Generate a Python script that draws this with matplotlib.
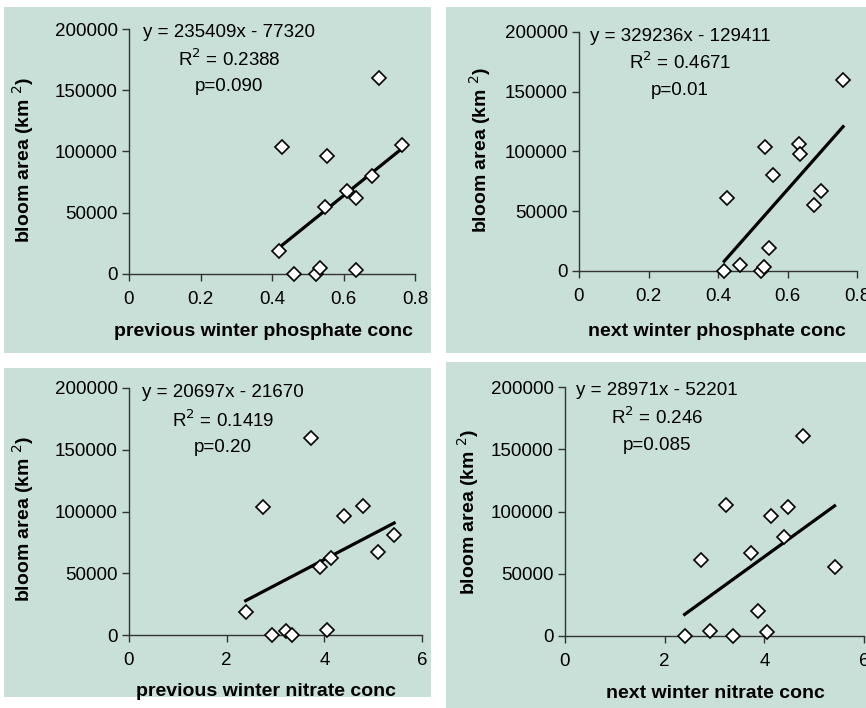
import matplotlib
matplotlib.use("Agg")
import matplotlib.pyplot as plt
from matplotlib.patches import Rectangle
import numpy as np

plt.rcParams['font.family'] = ['Liberation Sans', 'DejaVu Sans']

# ---- data ----
prev_phos_x = [0.419, 0.427, 0.461, 0.523, 0.535, 0.547, 0.554, 0.611, 0.636, 0.636, 0.680, 0.698, 0.764]
prev_phos_y = [18750, 103800, 0, 0, 4600, 54900, 96500, 67900, 61700, 3000, 80200, 160000, 105700]

next_phos_x = [0.418, 0.426, 0.463, 0.523, 0.533, 0.536, 0.547, 0.557, 0.632, 0.636, 0.676, 0.696, 0.760]
next_phos_y = [0, 60900, 4700, 0, 3600, 103900, 19500, 80200, 105900, 97800, 55000, 67000, 160000]

prev_nit_x = [2.39, 2.74, 2.92, 3.22, 3.34, 3.73, 3.91, 4.05, 4.13, 4.40, 4.79, 5.10, 5.43]
prev_nit_y = [18700, 103700, 0, 3200, 0, 159400, 54700, 4300, 62200, 96100, 104700, 67400, 80600]

next_nit_x = [2.40, 2.73, 2.91, 3.24, 3.37, 3.74, 3.88, 4.06, 4.13, 4.39, 4.48, 4.78, 5.41]
next_nit_y = [0, 60800, 4300, 105000, 0, 66700, 19800, 2900, 96400, 79800, 103600, 160400, 55400]

slopes = [235409, 329236, 20697, 28971]
intercepts = [-77320, -129411, -21670, -52201]
eq_texts = ["y = 235409x - 77320", "y = 329236x - 129411", "y = 20697x - 21670", "y = 28971x - 52201"]
r2_texts = ["R$^2$ = 0.2388", "R$^2$ = 0.4671", "R$^2$ = 0.1419", "R$^2$ = 0.246"]
p_texts = ["p=0.090", "p=0.01", "p=0.20", "p=0.085"]
xlabels = ["previous winter phosphate conc", "next winter phosphate conc",
           "previous winter nitrate conc", "next winter nitrate conc"]
ylabel = "bloom area (km $^{2}$)"
x_ticks_phos = [0, 0.2, 0.4, 0.6, 0.8]
x_ticklabels_phos = ["0", "0.2", "0.4", "0.6", "0.8"]
x_ticks_nit = [0, 2, 4, 6]
x_ticklabels_nit = ["0", "2", "4", "6"]
y_ticks = [0, 50000, 100000, 150000, 200000]
y_ticklabels = ["0", "50000", "100000", "150000", "200000"]

W, H = 866, 708
fig = plt.figure(figsize=(W / 100, H / 100), dpi=100)
fig.patch.set_facecolor('white')
bg = '#C8E0D8'

def px_rect(x0, y0, x1, y1):
    fig.patches.append(Rectangle((x0 / W, 1 - y1 / H), (x1 - x0) / W, (y1 - y0) / H,
                                 transform=fig.transFigure, facecolor=bg, edgecolor='none', zorder=-5))

px_rect(4, 7, 431, 353)
px_rect(446, 7, 866, 353)
px_rect(4, 368, 431, 697)
px_rect(446, 362, 866, 708)

# axes pixel boxes: x0, x1, ytop, ybottom
boxes = [(129, 415, 29, 274), (579, 857, 32, 271), (129, 422, 388, 635), (565, 864, 387, 636)]
datasets = [(prev_phos_x, prev_phos_y), (next_phos_x, next_phos_y),
            (prev_nit_x, prev_nit_y), (next_nit_x, next_nit_y)]
text_pos = [(0.35, [0.984, 0.878, 0.767]), (0.363, [0.983, 0.874, 0.757]),
            (0.321, [0.980, 0.870, 0.761]), (0.308, [0.984, 0.880, 0.767])]
xlabel_pos = [(264, 332), (717, 332), (266, 692), (715, 693)]
ylabel_pos = [(23, 160), (480, 150), (23, 519), (468, 512)]

fs = 13.5
lfs = 14
spine_col = '#333333'
for i in range(4):
    x0, x1, yt, yb = boxes[i]
    ax = fig.add_axes([x0 / W, 1 - yb / H, (x1 - x0) / W, (yb - yt) / H], zorder=2)
    ax.patch.set_visible(False)
    xs, ys = datasets[i]
    ax.plot(xs, ys, linestyle='none', marker='D', markersize=7, markerfacecolor='white',
            markeredgecolor='black', markeredgewidth=1.2, clip_on=False, zorder=4)
    xr = np.array([min(xs), max(xs)])
    ax.plot(xr, slopes[i] * xr + intercepts[i], color='black', linewidth=2.3, zorder=3, clip_on=False)
    if i < 2:
        ax.set_xlim(0, 0.8)
        ax.set_xticks(x_ticks_phos)
        ax.set_xticklabels(x_ticklabels_phos)
    else:
        ax.set_xlim(0, 6)
        ax.set_xticks(x_ticks_nit)
        ax.set_xticklabels(x_ticklabels_nit)
    ax.set_ylim(0, 200000)
    ax.set_yticks(y_ticks)
    ax.set_yticklabels(y_ticklabels)
    for s in ['top', 'right']:
        ax.spines[s].set_visible(False)
    for s in ['left', 'bottom']:
        ax.spines[s].set_color(spine_col)
        ax.spines[s].set_linewidth(1.0)
    ax.tick_params(direction='out', length=5, width=1.0, color=spine_col, labelsize=fs,
                   labelcolor='black', pad=3)
    ax.tick_params(axis='x', pad=7)
    tx, tys = text_pos[i]
    ax.text(tx, tys[0], eq_texts[i], transform=ax.transAxes, ha='center', va='center', fontsize=fs)
    ax.text(tx, tys[1], r2_texts[i], transform=ax.transAxes, ha='center', va='center', fontsize=fs)
    ax.text(tx, tys[2], p_texts[i], transform=ax.transAxes, ha='center', va='center', fontsize=fs)
    lx, ly = xlabel_pos[i]
    fig.text(lx / W, 1 - ly / H, xlabels[i], ha='center', va='center', fontsize=lfs, fontweight='bold')
    yx, yy = ylabel_pos[i]
    fig.text(yx / W, 1 - yy / H, ylabel, ha='center', va='center', fontsize=lfs, fontweight='bold',
             rotation=90)

fig.savefig('out.png', dpi=100, facecolor=fig.get_facecolor())
